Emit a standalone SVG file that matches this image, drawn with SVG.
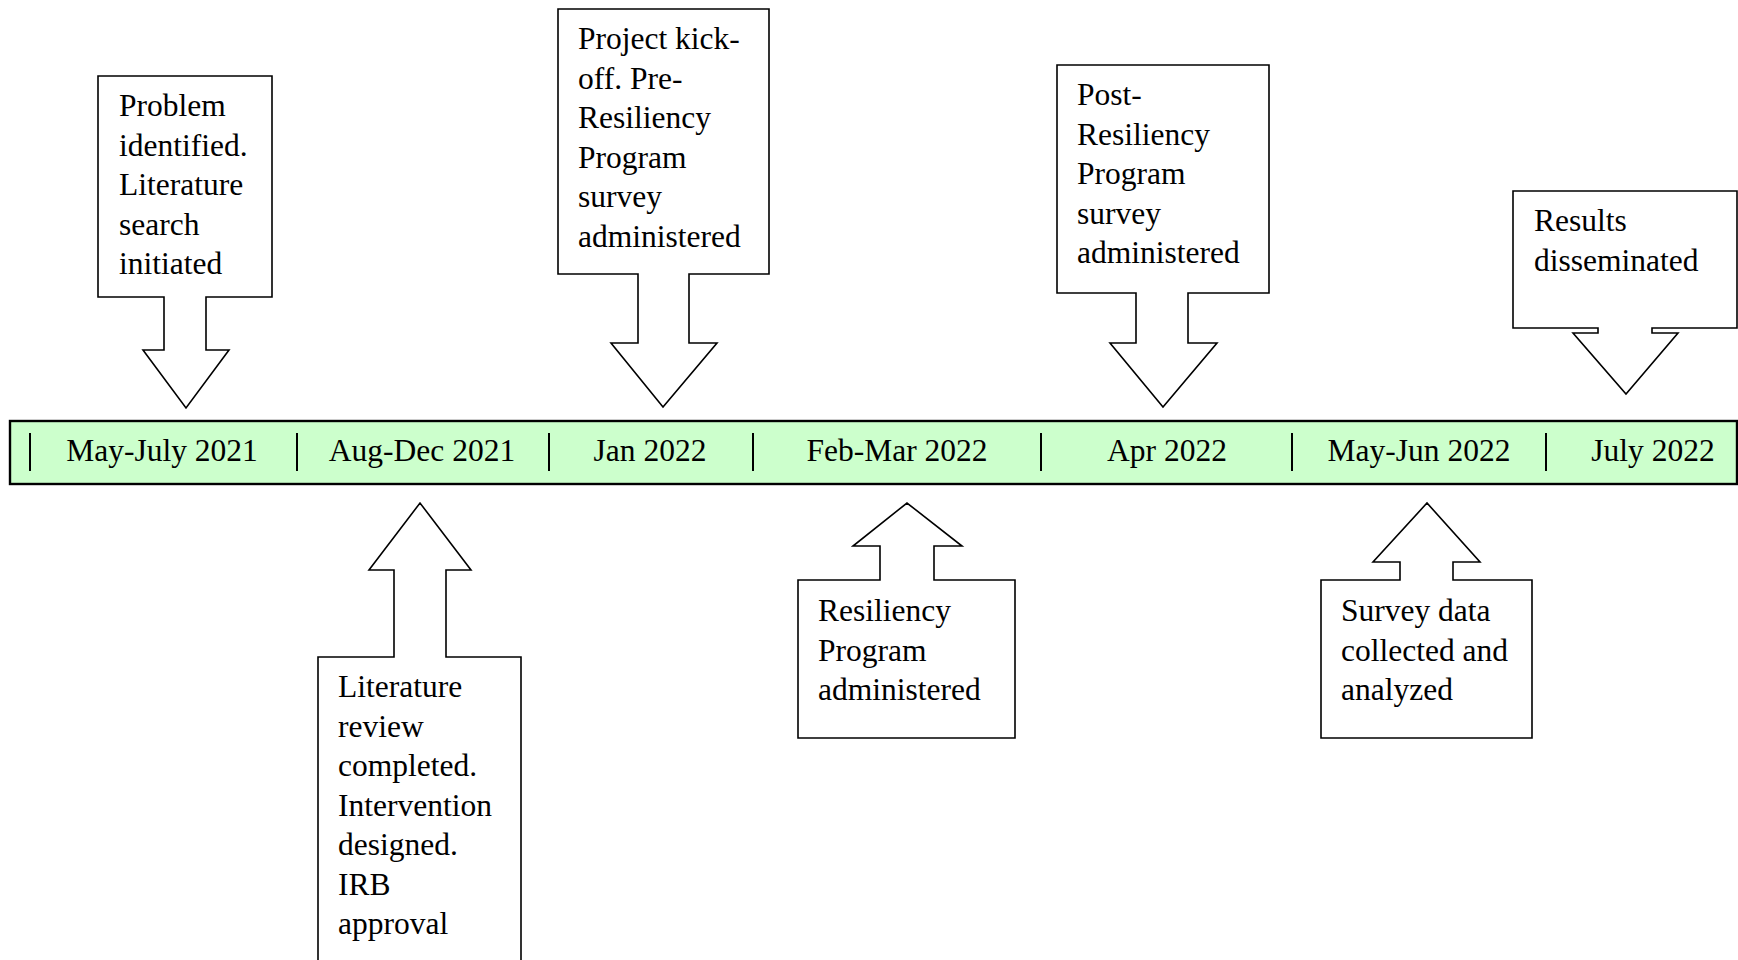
<svg xmlns="http://www.w3.org/2000/svg" width="1738" height="960" viewBox="0 0 1738 960">
<style>
.c{fill:#fff;stroke:#000;stroke-width:1.6;stroke-linejoin:miter}
.t{font-family:"Liberation Serif","Times New Roman",serif;font-size:31.5px;fill:#000}
.m{text-anchor:middle}
.sep{stroke:#000;stroke-width:2}
</style>
<rect width="1738" height="960" fill="#fff"/>
<g id="timeline">
<rect x="10" y="421" width="1727" height="63" fill="#ccffcc" stroke="#000" stroke-width="2.4"/>
<g class="sep">
<line x1="30" y1="433" x2="30" y2="471"/>
<line x1="297" y1="433" x2="297" y2="471"/>
<line x1="549" y1="433" x2="549" y2="471"/>
<line x1="753" y1="433" x2="753" y2="471"/>
<line x1="1041" y1="433" x2="1041" y2="471"/>
<line x1="1292" y1="433" x2="1292" y2="471"/>
<line x1="1546" y1="433" x2="1546" y2="471"/>
</g>
<text class="t m" x="162" y="461">May-July 2021</text>
<text class="t m" x="422" y="461">Aug-Dec 2021</text>
<text class="t m" x="650" y="461">Jan 2022</text>
<text class="t m" x="897" y="461">Feb-Mar 2022</text>
<text class="t m" x="1167" y="461">Apr 2022</text>
<text class="t m" x="1419" y="461">May-Jun 2022</text>
<text class="t m" x="1653" y="461">July 2022</text>
</g>
<g id="connectors"></g>
<g id="n1">
<path class="c" d="M98,76 H272 V297 H206 V350 H229 L186,408 L143,350 H164 V297 H98 Z"/>
<text class="t" x="119" y="116">Problem</text>
<text class="t" x="119" y="155.5">identified.</text>
<text class="t" x="119" y="195">Literature</text>
<text class="t" x="119" y="234.5">search</text>
<text class="t" x="119" y="274">initiated</text>
</g>
<g id="n2">
<path class="c" d="M558,9 H769 V274 H689 V343 H717 L663,407 L611,343 H638 V274 H558 Z"/>
<text class="t" x="578" y="49">Project kick-</text>
<text class="t" x="578" y="88.5">off. Pre-</text>
<text class="t" x="578" y="128">Resiliency</text>
<text class="t" x="578" y="167.5">Program</text>
<text class="t" x="578" y="207">survey</text>
<text class="t" x="578" y="246.5">administered</text>
</g>
<g id="n3">
<path class="c" d="M1057,65 H1269 V293 H1188 V343 H1217 L1163,407 L1110,343 H1136 V293 H1057 Z"/>
<text class="t" x="1077" y="105">Post-</text>
<text class="t" x="1077" y="144.5">Resiliency</text>
<text class="t" x="1077" y="184">Program</text>
<text class="t" x="1077" y="223.5">survey</text>
<text class="t" x="1077" y="263">administered</text>
</g>
<g id="n4">
<path class="c" d="M1513,191 H1737 V328 H1652 V333 H1678 L1626,394 L1573,333 H1598 V328 H1513 Z"/>
<text class="t" x="1534" y="231">Results</text>
<text class="t" x="1534" y="270.5">disseminated</text>
</g>
<g id="n5">
<path class="c" d="M318,962 V657 H394 V570 H369 L420,503 L471,570 H446 V657 H521 V962"/>
<text class="t" x="338" y="697">Literature</text>
<text class="t" x="338" y="736.5">review</text>
<text class="t" x="338" y="776">completed.</text>
<text class="t" x="338" y="815.5">Intervention</text>
<text class="t" x="338" y="855">designed.</text>
<text class="t" x="338" y="894.5">IRB</text>
<text class="t" x="338" y="934">approval</text>
</g>
<g id="n6">
<path class="c" d="M798,738 V580 H880 V546 H853 L907,503 L962,546 H934 V580 H1015 V738 Z"/>
<text class="t" x="818" y="621">Resiliency</text>
<text class="t" x="818" y="660.5">Program</text>
<text class="t" x="818" y="700">administered</text>
</g>
<g id="n7">
<path class="c" d="M1321,738 V580 H1400 V562 H1373 L1427,503 L1480,562 H1453 V580 H1532 V738 Z"/>
<text class="t" x="1341" y="621">Survey data</text>
<text class="t" x="1341" y="660.5">collected and</text>
<text class="t" x="1341" y="700">analyzed</text>
</g>
</svg>
